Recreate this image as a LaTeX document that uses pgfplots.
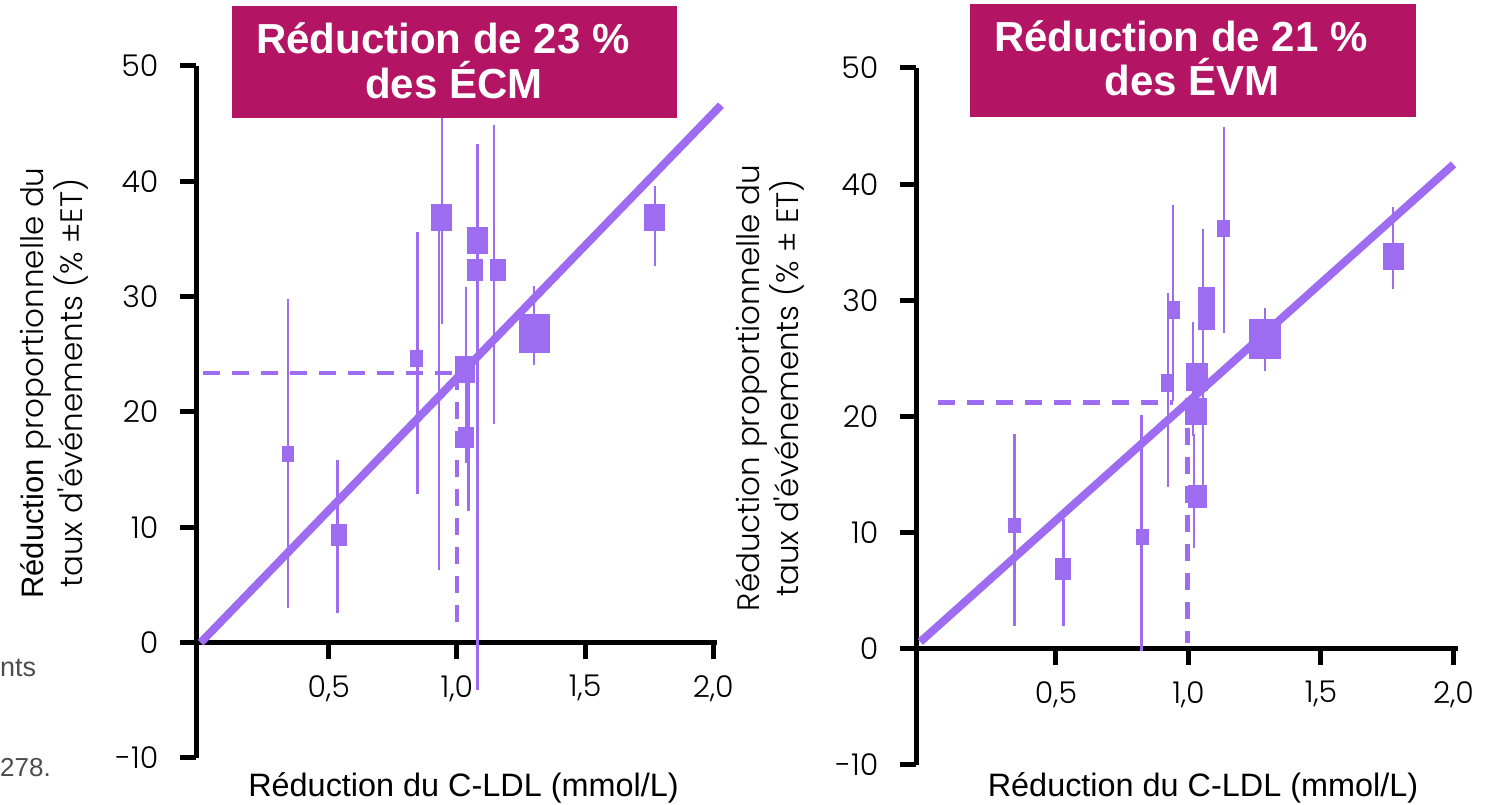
\documentclass[border=0pt]{standalone}
\usepackage{pgfplots}
\pgfplotsset{compat=1.18}
\usepackage{fontspec}
\setmainfont{Liberation Sans}
\IfFontExistsTF{Poppins Light}{\newfontfamily\gothic{Poppins Light}}{\newfontfamily\gothic{Poppins}}
\definecolor{pur}{HTML}{9E6CF0}
\definecolor{mag}{HTML}{B31464}

\pgfdeclareplotmark{rect}{%
  \pgfpathrectangle{\pgfpoint{-0.5*\rw pt}{-0.5*\rh pt}}{\pgfpoint{\rw pt}{\rh pt}}%
  \pgfusepathqfill}

\pgfplotsset{myax/.style={
  scale only axis, clip=false,
  axis y line=left, axis x line=middle,
  axis line style={-, line width=5pt, black},
  tick align=outside, major tick length=16pt,
  tick style={line width=5pt, black},
  ymin=-10, ymax=50, ytick={-10,0,10,20,30,40,50},
  yticklabels={-10,0,10,20,30,40,50},
  xtick={0.5,1,1.5,2}, xticklabels={{0,5},{1,0},{1,5},{2,0}},
  tick label style={font=\gothic\fontsize{30}{30}\selectfont, text=black},
  yticklabel style={xshift=-18pt},
  xticklabel style={yshift=-13pt},
  minor tick num=0,
}}

\pgfplotstableread{
x y w h
0.341 16.4 12 16
0.540 9.3 16 22
0.844 24.6 13 17
0.941 36.9 21 27
1.080 34.9 21 27
1.070 32.3 16 22
1.160 32.3 16 22
1.031 23.7 20 27
1.035 17.8 16 21
1.304 26.8 31 39
1.772 36.9 21 27
}\sqA
\pgfplotstableread{
x y ep em
0.341 16.4 13.4 13.4
0.535 9.2 6.6 6.6
0.845 24.25 11.35 11.35
0.930 21.0 14.7 14.7
0.941 37.1 9.5 9.5
1.080 19.55 23.65 23.65
1.145 31.95 12.95 12.95
1.036 23.2 7.6 7.6
1.044 17.7 6.3 6.3
1.300 27.5 3.4 3.4
1.772 36.15 3.45 3.45
}\barA
\pgfplotstableread{
x y w h
0.343 10.6 13 15
0.528 6.9 16 22
0.828 9.6 13 16
0.921 22.9 13 18
0.945 29.2 13 18
1.068 29.3 17 43
1.032 23.4 22 28
1.028 20.4 22 27
1.035 13.1 19 23
1.134 36.2 13 17
1.289 26.7 32 40
1.772 33.8 21 27
}\sqB
\pgfplotstableread{
x y ep em
0.343 10.25 8.25 8.25
0.528 6.6 4.6 4.6
0.823 9.95 10.15 10.15
0.922 22.25 8.35 8.35
0.942 29.75 8.45 8.45
1.055 24.1 12.0 12.0
1.017 23.2 4.9 4.9
1.021 13.6 4.9 4.9
1.134 36.05 8.85 8.85
1.289 26.6 2.7 2.7
1.772 34.5 3.5 3.5
}\barB

\begin{document}
\begin{tikzpicture}[x=1pt,y=1pt]
\path[use as bounding box] (0,0) rectangle (1506,805);

% ---------- left panel ----------
\begin{axis}[myax, at={(196pt,47pt)}, anchor=south west,
  width=521.4pt, height=692pt, xmin=-0.018, xmax=2.016]
\addplot[draw=none, mark=none, error bars/.cd, y dir=both, y explicit,
  error mark=none, error bar style={draw=pur, line width=2.6pt}]
  table[x=x, y=y, y error plus=ep, y error minus=em] {\barA};
\addplot[pur, line width=4.5pt, dash pattern=on 17pt off 12pt] coordinates {(0.01,23.4) (1.0,23.4)};
\addplot[pur, line width=4.5pt, dash pattern=on 17pt off 12pt] coordinates {(1.0,23.4) (1.0,1.0)};
\addplot[pur, line width=8pt] coordinates {(0,0) (2.03,46.6)};
\addplot[only marks, mark=rect, pur,
  visualization depends on={\thisrow{w} \as \rw},
  visualization depends on={\thisrow{h} \as \rh}]
  table[x=x, y=y] {\sqA};
\end{axis}

% ---------- right panel ----------
\begin{axis}[myax, at={(916pt,40pt)}, anchor=south west,
  width=542pt, height=697pt, xmin=-0.028, xmax=2.017]
\addplot[draw=none, mark=none, error bars/.cd, y dir=both, y explicit,
  error mark=none, error bar style={draw=pur, line width=2.6pt}]
  table[x=x, y=y, y error plus=ep, y error minus=em] {\barB};
\addplot[pur, line width=4.5pt, dash pattern=on 17pt off 12pt] coordinates {(0.055,21.2) (0.94,21.2)};
\addplot[pur, line width=4.5pt, dash pattern=on 17pt off 12pt] coordinates {(0.996,19.0) (0.996,0.5)};
\addplot[pur, line width=8pt] coordinates {(-0.012,0.6) (2.0,41.7)};
\addplot[only marks, mark=rect, pur,
  visualization depends on={\thisrow{w} \as \rw},
  visualization depends on={\thisrow{h} \as \rh}]
  table[x=x, y=y] {\sqB};
\end{axis}

% ---------- title boxes ----------
\fill[mag] (232,687) rectangle (677,799);
\node[anchor=base, text=white, inner sep=0pt, font=\bfseries\fontsize{42}{42}\selectfont] at (443,751.5) {Réduction de 23 \%};
\node[anchor=base, text=white, inner sep=0pt, font=\bfseries\fontsize{42}{42}\selectfont] at (454,706.5) {des ÉCM};
\fill[mag] (970,688) rectangle (1416,801);
\node[anchor=base, text=white, inner sep=0pt, font=\bfseries\fontsize{42}{42}\selectfont] at (1181,753.5) {Réduction de 21 \%};
\node[anchor=base, text=white, inner sep=0pt, font=\bfseries\fontsize{42}{42}\selectfont] at (1192,709.5) {des ÉVM};

% ---------- axis titles ----------
\node[anchor=base, inner sep=0pt, font=\fontsize{32.4}{32.4}\selectfont] at (463.5,8.5) {Réduction du C-LDL (mmol/L)};
\node[anchor=base, inner sep=0pt, font=\fontsize{32.4}{32.4}\selectfont] at (1203,8.5) {Réduction du C-LDL (mmol/L)};
\node[rotate=90, align=center, inner sep=0pt, font=\gothic\fontsize{31}{39}\selectfont] at (54,422)
  {{\rmfamily Réduction} proportionnelle du\\taux d'événements (\% ±ET)};
\node[rotate=90, align=center, inner sep=0pt, font=\gothic\fontsize{31}{39}\selectfont] at (770,417)
  {Réduction proportionnelle du\\taux d'événements (\% ± ET)};

% ---------- clipped side text ----------
\node[anchor=base west, inner sep=0pt, text=black!70, font=\fontsize{27}{27}\selectfont] at (0,128) {nts};
\node[anchor=base west, inner sep=0pt, text=black!70, font=\fontsize{26}{26}\selectfont] at (0,28) {278.};
\end{tikzpicture}
\end{document}
